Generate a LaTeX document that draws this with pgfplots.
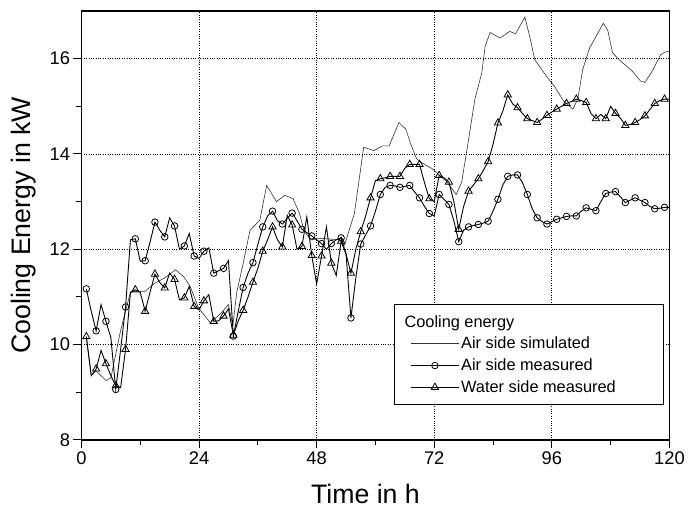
\documentclass[border=0pt]{standalone}
\usepackage{pgfplots}
\pgfplotsset{compat=1.18}
\usepackage{pgfplotstable}
\usepackage{fontspec}
\setmainfont{Liberation Sans}

\pgfplotstableread{
t v
1 10.15
2 9.35
3 9.45
4 9.35
5 9.25
6 9.3
7 9.8
8 10.3
9 10.7
10 11.1
11 11.12
13 11.12
15 11.29
17 11.4
19.2 11.57
20.9 11.42
22.2 11.22
23.9 10.77
26.3 10.46
28.6 10.67
30 10.84
30.9 10.4
31.7 11.1
33 11.7
34.4 12.4
36.4 12.61
37.8 13.34
39.8 13.0
41.5 13.13
43.2 13.06
44.5 12.75
45.5 12.37
46.9 12.2
48.9 12.23
52.6 12.2
53.7 12.09
55.7 12.75
57.6 14.14
59.7 14.07
61.4 14.17
62.8 14.17
64.8 14.66
66.2 14.52
67.2 14.21
68.4 13.9
69.2 13.83
71.6 13.69
74.6 13.41
76.5 13.15
77.6 13.41
78.7 14.1
80.3 15.15
81.7 15.7
82.4 16.26
83.4 16.55
85.4 16.43
87.4 16.57
88.6 16.52
90.5 16.87
91.5 16.46
92.5 15.98
94.9 15.63
96.6 15.41
98.4 15.11
100.3 14.94
101.3 15.15
102.3 15.77
103.7 16.22
105 16.46
106.5 16.74
107.4 16.6
108.4 16.12
109.9 15.96
112.4 15.74
114.1 15.53
115 15.5
116.5 15.74
118.2 16.08
119.2 16.14
120 16.15
}\simtable

\pgfplotstableread{
t v
1 11.17
2 10.7
3 10.29
4 10.84
5 10.49
6 10.15
7 9.06
8 9.9
9 10.79
10 12.2
11 12.22
12 11.75
13 11.76
14 12.15
15 12.57
16 12.4
17 12.26
18 12.66
19 12.49
20 12.0
21 12.07
22 12.33
23 11.86
24 11.81
25 11.96
26 12.03
27 11.5
28 11.55
29 11.6
30 11.76
31 10.18
32 10.7
33 11.2
34 11.5
35 11.72
36 12.1
37 12.47
38 12.7
39 12.8
40 12.6
41 12.53
42 12.65
43 12.76
44 12.6
45 12.42
46 12.35
47 12.28
48 12.2
49 12.12
50 12.0
51 12.12
52 12.2
53 12.24
54 11.9
55 10.56
56 11.4
57 12.11
58 12.3
59 12.49
60 12.8
61 13.15
62 13.3
63 13.34
64 13.33
65 13.3
66 13.32
67 13.34
68 13.2
69 13.08
70 12.9
71 12.75
72 12.7
73 13.15
74 13.05
75 12.94
76 12.6
77 12.16
78 12.4
79 12.47
80 12.5
81 12.52
82 12.55
83 12.59
84 12.8
85 13.05
86 13.35
87 13.53
88 13.56
89 13.56
90 13.4
91 13.15
92 12.85
93 12.66
94 12.58
95 12.53
96 12.58
97 12.63
98 12.66
99 12.69
100 12.7
101 12.7
102 12.8
103 12.87
104 12.84
105 12.81
106 13.0
107 13.17
108 13.2
109 13.21
110 13.1
111 12.98
112 13.03
113 13.08
114 13.03
115 12.98
116 12.9
117 12.85
118 12.86
119 12.88
120 12.88
}\airtable

\pgfplotstableread{
t v
1 10.17
2 9.35
3 9.49
4 9.88
5 9.6
6 9.35
7 9.14
8 9.1
9 9.9
10 11.1
11 11.15
12 11.1
13 10.7
14 11.1
15 11.48
16 11.3
17 11.19
18 11.5
19 11.37
20 10.94
21 10.98
22 11.22
23 10.8
24 10.73
25 10.92
26 11.05
27 10.49
28 10.5
29 10.6
30 10.75
31 10.2
32 10.5
33 10.72
34 11.0
35 11.31
36 11.6
37 11.96
38 12.2
39 12.47
40 12.2
41 12.05
42 12.71
43 12.51
44 12.0
45 12.06
46 12.68
47 11.87
48 11.27
49 11.86
50 12.47
51 11.71
52 11.45
53 12.17
54 11.9
55 11.5
56 12.0
57 12.37
58 12.7
59 13.08
60 13.44
61 13.48
62 13.5
63 13.53
64 13.53
65 13.53
66 13.7
67 13.78
68 13.78
69 13.78
70 13.4
71 13.06
72 13.0
73 13.55
74 13.5
75 13.41
76 13.0
77 12.42
78 12.9
79 13.22
80 13.35
81 13.48
82 13.65
83 13.84
84 14.2
85 14.65
86 14.9
87 15.24
88 15.05
89 14.97
90 14.85
91 14.74
92 14.7
93 14.66
94 14.73
95 14.81
96 14.88
97 14.94
98 15.0
99 15.06
100 15.1
101 15.15
102 15.12
103 15.08
104 14.85
105 14.74
106 14.83
107 14.74
108 15.0
109 14.85
110 14.75
111 14.6
112 14.62
113 14.66
114 14.72
115 14.8
116 14.93
117 15.06
118 15.12
119 15.15
120 15.15
}\watertable

\begin{document}
\begin{tikzpicture}
\begin{axis}[
  scale only axis,
  width=592bp, height=432bp,
  xmin=0, xmax=120, ymin=8, ymax=17,
  xtick={0,24,48,72,96,120},
  ytick={8,10,12,14,16},
  minor xtick={12,36,60,84,108},
  minor ytick={9,11,13,15},
  tick align=outside,
  xtick pos=left, ytick pos=left,
  major tick length=8bp, minor tick length=5bp,
  tick style={black, line width=1bp},
  axis line style={line width=1.2bp},
  grid=major,
  major grid style={black, dotted, line width=0.8bp},
  /pgf/number format/assume math mode=true,
  ticklabel style={font=\fontsize{18.5}{22}\selectfont},
  xlabel={Time in h},
  ylabel={Cooling Energy in kW},
  label style={font=\fontsize{27}{32}\selectfont},
  x label style={at={(axis description cs:0.483,-0.125)}, anchor=center},
  y label style={at={(axis description cs:-0.098,0.5)}, anchor=center},
  clip=false,
  legend cell align=left,
  legend style={at={(axis description cs:0.532,0.317)}, anchor=north west,
    draw=black, line width=1bp, inner xsep=16bp, inner ysep=9bp,
    font=\fontsize{16.5}{19.5}\selectfont, row sep=4.5bp},
  legend image code/.code={\draw[mark repeat=2,mark phase=2] plot coordinates {(0bp,0bp) (24bp,0bp) (48bp,0bp)};},
]
\addlegendimage{empty legend}
\addlegendentry{\hspace*{-57bp}Cooling energy\rule[-23bp]{0pt}{12bp}}
\addplot[black!80, line width=0.6bp, no marks] table[x=t,y=v] {\simtable};
\addlegendentry{Air side simulated}
\addplot[black, line width=0.9bp, mark=o, mark size=3.3bp, mark repeat=2, mark phase=1,
  mark options={solid, fill=white, line width=0.8bp}] table[x=t,y=v] {\airtable};
\addlegendentry{Air side measured}
\addplot[black, line width=0.9bp, mark=triangle, mark size=4.2bp, mark repeat=2, mark phase=1,
  mark options={solid, fill=white, line width=0.8bp}] table[x=t,y=v] {\watertable};
\addlegendentry{Water side measured\hspace*{30bp}\rule[-13bp]{0pt}{0pt}}
\path (axis description cs:0,1) ++(-82bp,11bp) coordinate (tl);
\path (axis description cs:1,0) ++(0bp,-72bp) coordinate (br);
\path (tl) -- (br);
\end{axis}
\end{tikzpicture}
\end{document}
